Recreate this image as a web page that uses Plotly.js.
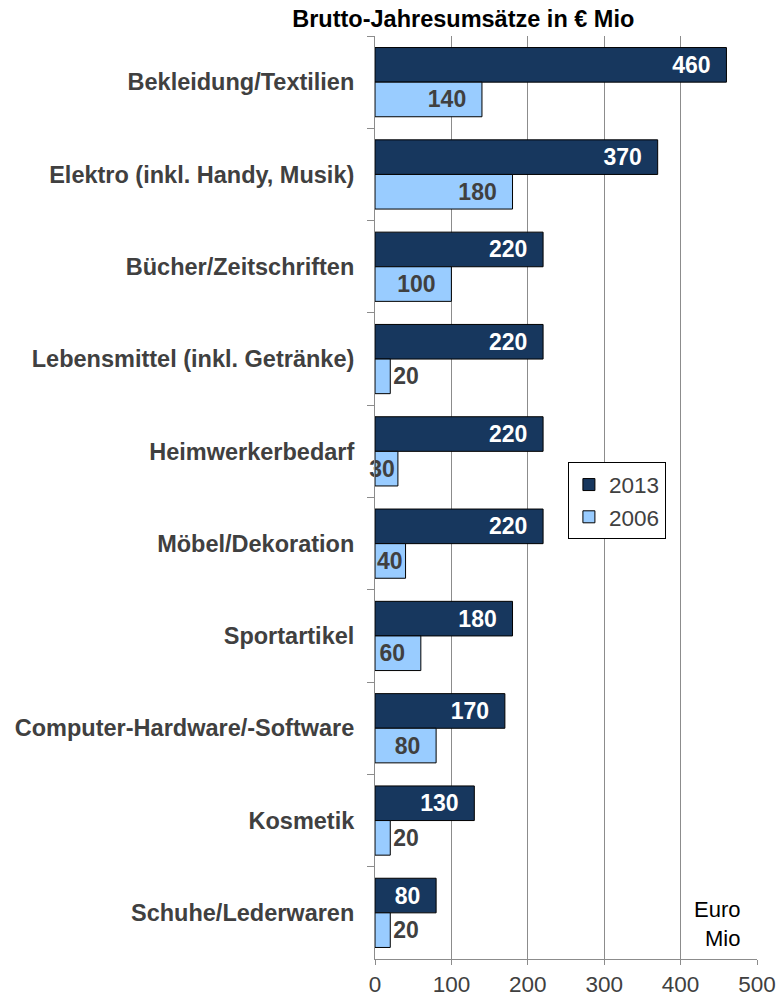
<!DOCTYPE html>
<html>
<head>
<meta charset="utf-8">
<script src="https://cdn.plot.ly/plotly-3.0.1.min.js"></script>
<style>html,body{margin:0;padding:0;background:#fff;}#chart{width:776px;height:997px;}</style>
</head>
<body>
<div id="chart"></div>
<script>
const categories = [
  'Bekleidung/Textilien',
  'Elektro (inkl. Handy, Musik)',
  'Bücher/Zeitschriften',
  'Lebensmittel (inkl. Getränke)',
  'Heimwerkerbedarf',
  'Möbel/Dekoration',
  'Sportartikel',
  'Computer-Hardware/-Software',
  'Kosmetik',
  'Schuhe/Lederwaren'
];
const values2013 = [460, 370, 220, 220, 220, 220, 180, 170, 130, 80];
const values2006 = [140, 180, 100, 20, 30, 40, 60, 80, 20, 20];
const seriesNames = ['2013', '2006'];
const xTicks = [0, 100, 200, 300, 400, 500];

// label placement style for the 2006 series
const pos2006 = ['inside','inside','inside','outside','inside','inside','inside','inside','outside','outside'];
const pad = '\u00a0\u00a0';
const text2013 = values2013.map(v => String(v) + pad);
const text2006 = values2006.map((v, i) => pos2006[i] === 'inside' && v >= 60 ? String(v) + pad : String(v));

const boldFont = 'Liberation Sans, Arial, sans-serif';

const traces = [
  {
    type: 'bar', orientation: 'h', name: seriesNames[0],
    y: categories, x: values2013,
    marker: {color: '#17375E', line: {color: '#000000', width: 1}},
    text: text2013, textposition: 'inside', insidetextanchor: 'end',
    textangle: 0, constraintext: 'none', cliponaxis: false,
    textfont: {family: boldFont, size: 23, color: '#ffffff', weight: 'bold'},
    hoverinfo: 'none'
  },
  {
    type: 'bar', orientation: 'h', name: seriesNames[1],
    y: categories, x: values2006,
    marker: {color: '#99CCFF', line: {color: '#000000', width: 1}},
    text: text2006, textposition: pos2006, insidetextanchor: 'end',
    textangle: 0, constraintext: 'none', cliponaxis: false,
    textfont: {family: boldFont, size: 23, color: '#404040', weight: 'bold'},
    hoverinfo: 'none'
  }
];

const layout = {
  width: 776, height: 997,
  paper_bgcolor: '#ffffff', plot_bgcolor: '#ffffff',
  margin: {l: 375, r: 19, t: 36, b: 38, pad: 0},
  barmode: 'group', bargap: 0.25, bargroupgap: 0,
  showlegend: true,
  title: {
    text: 'Brutto-Jahresumsätze in € Mio',
    font: {family: boldFont, size: 23.5, color: '#000000', weight: 'bold'},
    x: 0.597, xref: 'container', xanchor: 'center',
    y: 0.981, yref: 'container', yanchor: 'middle'
  },
  xaxis: {
    range: [0, 500], tickvals: xTicks, ticktext: xTicks.map(String),
    showgrid: true, gridcolor: '#8c8c8c', gridwidth: 1,
    showline: true, linecolor: '#8c8c8c', linewidth: 1,
    ticks: 'outside', ticklen: 5, tickcolor: '#8c8c8c',
    tickfont: {family: 'Liberation Sans, Arial, sans-serif', size: 22.5, color: '#404040'},
    zeroline: false, fixedrange: true
  },
  yaxis: {
    type: 'category', autorange: 'reversed',
    showgrid: false, showline: true, linecolor: '#8c8c8c', linewidth: 1,
    ticks: 'outside', tickson: 'boundaries', ticklen: 7, tickcolor: '#8c8c8c',
    ticklabelstandoff: 15,
    tickfont: {family: boldFont, size: 23.5, color: '#404040', weight: 'bold'},
    fixedrange: true
  },
  legend: {
    x: 0.505, y: 0.538, xanchor: 'left', yanchor: 'top',
    bgcolor: '#ffffff', bordercolor: '#000000', borderwidth: 1,
    font: {family: 'Liberation Sans, Arial, sans-serif', size: 22.5, color: '#404040'},
    itemwidth: 30, tracegroupgap: 0
  },
  annotations: [{
    text: 'Euro<br>Mio', xref: 'paper', yref: 'paper',
    x: 0.961, y: 0.038, xanchor: 'right', yanchor: 'middle', align: 'right',
    showarrow: false,
    font: {family: 'Liberation Sans, Arial, sans-serif', size: 22, color: '#000000'}
  }]
};

Plotly.newPlot('chart', traces, layout, {displayModeBar: false, staticPlot: true});
</script>
</body>
</html>
